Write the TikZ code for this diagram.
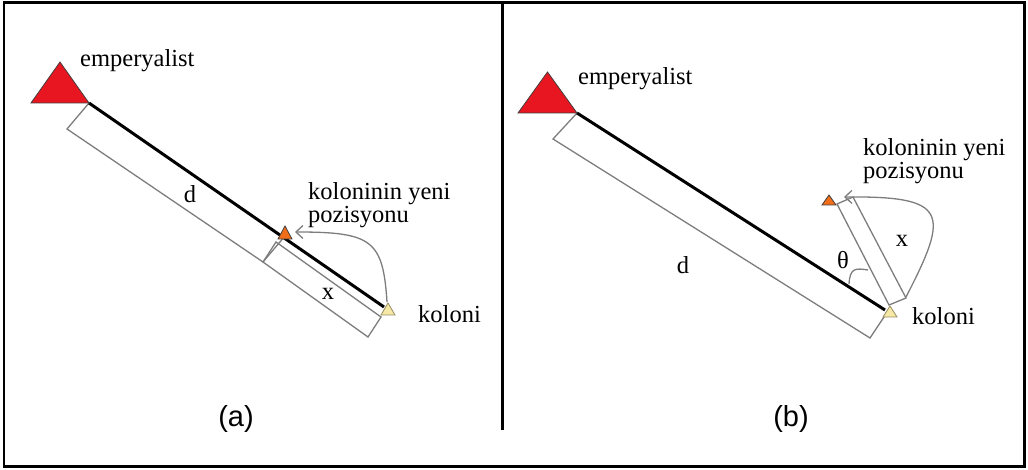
\documentclass[tikz,border=0pt]{standalone}
\usepackage{fontspec}
\setmainfont{Liberation Serif}
\newfontfamily\sansyazi{Liberation Sans}
\usetikzlibrary{arrows.meta}

\begin{document}
\begin{tikzpicture}[
		x=1pt,y=-1pt,
		every node/.style={inner sep=0pt,font=\fontsize{24.5}{23}\selectfont},
		kutu/.style={draw=RenkKutu,line width=1.3pt},
		ok/.style={draw=RenkKutu,line width=1.3pt,
			-{Straight Barb[length=7pt,width=13pt]}},
		yol/.style={line width=3pt},
		emp/.style={fill=RenkEmp,draw=RenkKenar,line width=0.8pt},
		yeni/.style={fill=RenkYeni,draw=RenkKenar,line width=0.8pt},
		kol/.style={fill=RenkKoloni,draw=RenkKolKenar,line width=0.8pt},
		etiket/.style={font=\sansyazi\fontsize{29}{29}\selectfont}
	]
		\definecolor{RenkEmp}{RGB}{232,22,32}
		\definecolor{RenkYeni}{RGB}{240,110,25}
		\definecolor{RenkKoloni}{RGB}{246,232,165}
		\definecolor{RenkKenar}{RGB}{70,60,60}
		\definecolor{RenkKolKenar}{RGB}{150,140,100}
		\definecolor{RenkKutu}{RGB}{125,125,125}
		\useasboundingbox (0,0) rectangle (1028,470);
		% cerceve
		\draw[line width=2.5pt] (4,2.5) rectangle (1024.5,466.5);
		\draw[line width=3pt] (502,2) -- (502,430);
		% (a)
		\coordinate (empA) at (89,103);
		\coordinate (kolA) at (384,307);
		\coordinate (yeniA) at (285,234);
		\draw[kutu] (empA) -- (67,129) -- (263,262) -- (285,236);
		\draw[kutu] (276,242) -- (263,262) -- (368,337) -- (381,317) -- cycle;
		\draw[yol] (empA) -- (kolA);
		\filldraw[emp] (empA) -- ++(-58,0) -- ++(29,-41) -- cycle;
		\filldraw[yeni] ([shift={(0,-8)}]yeniA) -- ++(7,13) -- ++(-14,0) -- cycle;
		\filldraw[kol] ([shift={(4,-4)}]kolA) -- ++(7,12) -- ++(-14,0) -- cycle;
		\draw[ok] ([shift={(3,-5)}]kolA) .. controls (383,240) and (372,232)
			.. ([shift={(10,-2)}]yeniA);
		\node[anchor=base west] (empAyazi) at (80,67) {emperyalist};
		\node[anchor=base west] (kolAyazi) at (418,323) {koloni};
		\node[anchor=north west,align=left] (yeniAyazi) at (308,182)
			{koloninin yeni\\pozisyonu};
		\node[anchor=base] (dA) at (190,203) {d};
		\node[anchor=base] (xA) at (328,300) {x};
		\node[etiket] (a) at (236,419) {(a)};
		% (b)
		\coordinate (empB) at (577,113);
		\coordinate (kolB) at (885,310);
		\coordinate (yeniB) at (829,201);
		\draw[kutu] (empB) -- (553,139) -- (870,338) -- (886,314);
		\draw[kutu] (837,204) -- (853,197) -- (906,298) -- (889,305) -- cycle;
		\draw[kutu] (849,284) .. controls (850,268) and (855,268) .. (868,270);
		\draw[yol] (empB) -- (kolB);
		\filldraw[emp] (empB) -- ++(-59,0) -- ++(29.5,-41) -- cycle;
		\filldraw[yeni] ([shift={(0,-6)}]yeniB) -- ++(7,10) -- ++(-14,0) -- cycle;
		\filldraw[kol] ([shift={(5,-4)}]kolB) -- ++(7,11) -- ++(-14,0) -- cycle;
		\draw[ok] ([shift={(21,-13)}]kolB) .. controls (950,212) and (948,196)
			.. ([shift={(15,-4)}]yeniB);
		\node[anchor=base west] (empByazi) at (578,85) {emperyalist};
		\node[anchor=base west] (kolByazi) at (912,324) {koloni};
		\node[anchor=north west,align=left] (yeniByazi) at (863,138)
			{koloninin yeni\\pozisyonu};
		\node[anchor=base] (dB) at (683,274) {d};
		\node[anchor=base] (xB) at (902,247) {x};
		\node[anchor=base] (teta) at (843,269) {θ};
		\node[etiket] (b) at (791,419) {(b)};
	\end{tikzpicture}
\end{document}
